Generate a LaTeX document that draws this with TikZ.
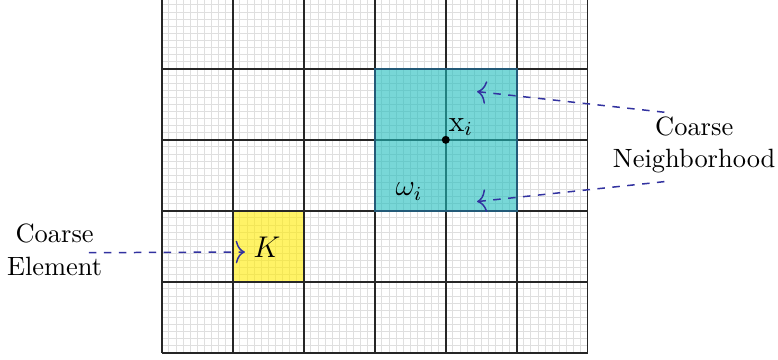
\documentclass[tikz,border=0pt]{standalone}
\usepackage{tikz}
\usetikzlibrary{arrows.meta,positioning}
\definecolor{nbhfill}{RGB}{30,188,188}
\definecolor{nbhedge}{RGB}{35,90,120}
\definecolor{elemfill}{RGB}{255,235,0}
\definecolor{pointer}{RGB}{50,50,160}

\begin{document}
\begin{tikzpicture}[
  fine/.style={gray!25,line width=0.4pt},
  coarse/.style={black!85,line width=0.6pt},
  nb/.style={fill=nbhfill,fill opacity=0.6,draw=nbhedge,line width=0.9pt},
  el/.style={fill=elemfill,fill opacity=0.6,draw=black!85,line width=0.6pt},
  lbl/.style={align=center,inner sep=1pt,font=\fontsize{10.6}{12.9}\selectfont},
  a/.style={-{To[length=1.3mm,width=3.2mm]},dashed,pointer,semithick}
]
\useasboundingbox (-2.28,-0.1) rectangle (8.68,4.97);
% meshes
\draw[fine] (0,0) grid[step=0.1] (6,5);
\draw[coarse] (0,0) grid[step=1] (6,5);
% coarse element and neighborhood
\fill[el] (1,1) rectangle (2,2);
\draw[coarse] (1,1) rectangle (2,2);
\filldraw[nb] (3,2) rectangle (5,4);
\node[lbl,font=\large] (K) at (1.48,1.48) {$K$};
\node[lbl,font=\large] (om) at (3.48,2.27) {$\omega_i$};
\fill (4,3) circle (1.6pt);
\node[lbl,font=\large,anchor=south west,inner sep=0.5pt] (xi) at (4.02,3.03) {$\mathrm{x}_i$};
% labels
\node[lbl] (elem) at (-1.51,1.45) {Coarse\\Element};
\node[lbl] (nbh) at (7.5,2.93) {Coarse\\Neighborhood};
\coordinate (kin) at (1.17,1.42);
\coordinate (top) at (4.44,3.68);
\coordinate (bot) at (4.44,2.13);
\draw[a] ([xshift=-2.3mm,yshift=-0.4mm]elem.east) -- (kin);
\draw[a] ([xshift=-4.2mm,yshift=0.2mm]nbh.north) -- (top);
\draw[a] ([xshift=-4.2mm,yshift=-0.8mm]nbh.south) -- (bot);
\end{tikzpicture}
\end{document}
